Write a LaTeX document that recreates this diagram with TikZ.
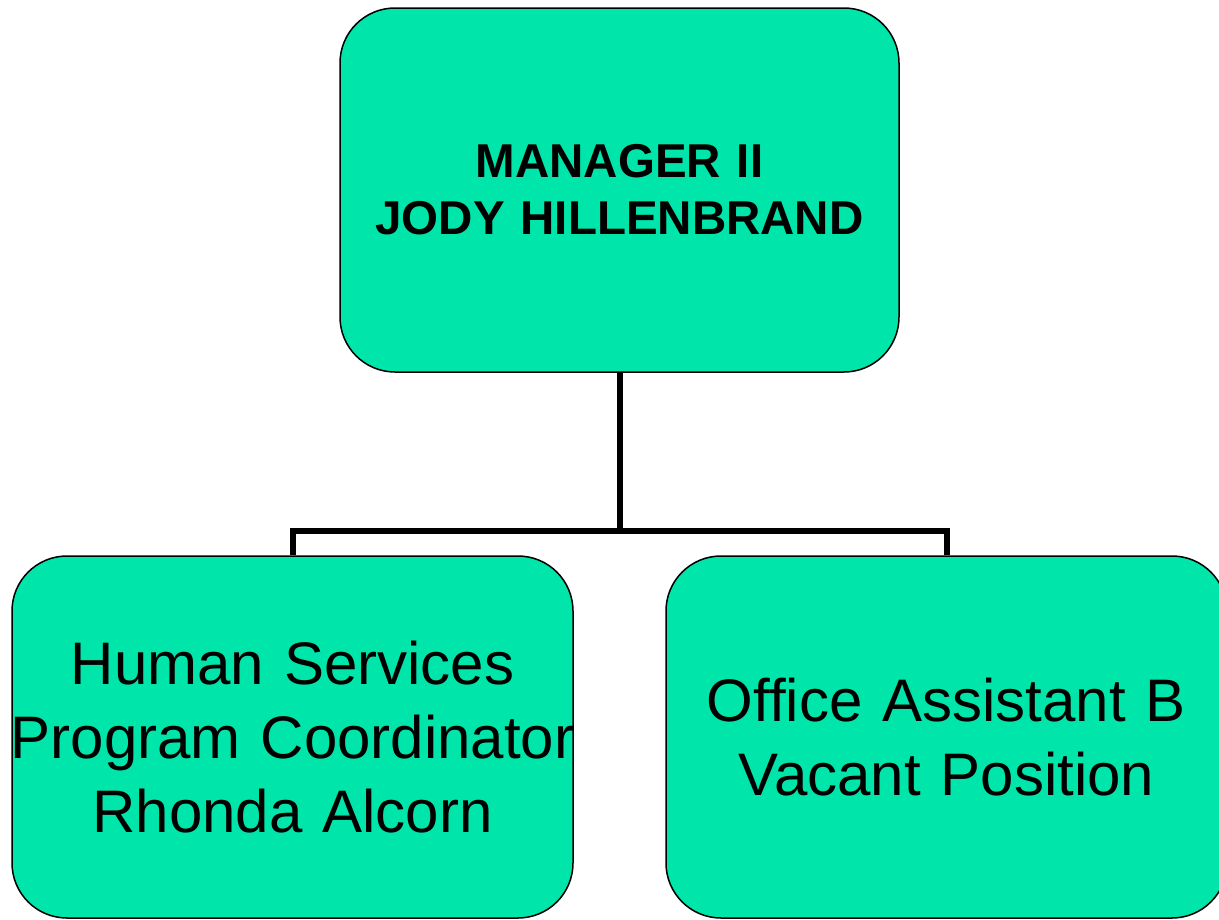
\documentclass[tikz,border=0pt]{standalone}
\usepackage{fontspec}
\setmainfont{Liberation Sans}
\usepackage{xcolor}
\usepackage{tikz}

\definecolor{boxgreen}{RGB}{0,229,170}

\begin{document}
\begin{tikzpicture}[x=1pt,y=-1pt,
  box/.style={draw=black, line width=1.5pt, fill=boxgreen, rounded corners=55pt,
    minimum width=561pt, minimum height=362pt, text width=561pt,
    inner sep=0pt, align=center, font=\fontsize{60}{74}\selectfont},
  link/.style={draw=black, line width=6pt}]
  \useasboundingbox (0,0) rectangle (1219,919);
  \clip (0,0) rectangle (1219,919);
  % boxes
  \node[box, minimum width=559pt, minimum height=364pt, text width=559pt,
    font=\fontsize{47.5}{57}\selectfont\bfseries] (mgr) at (619.5,190)
    {MANAGER II\\JODY HILLENBRAND};
  \node[box] (hspc) at (292.5,737)
    {Human Services\\\makebox[\linewidth]{Program Coordinator}\\Rhonda Alcorn};
  \node[box] (oab) at (946.5,737)
    {Office Assistant B\\Vacant Position};
  % links
  \coordinate (split) at (619.5,531);
  \draw[link] (mgr.south) -- (split);
  \draw[link] (hspc.north) |- (split) -| (oab.north);
\end{tikzpicture}
\end{document}
